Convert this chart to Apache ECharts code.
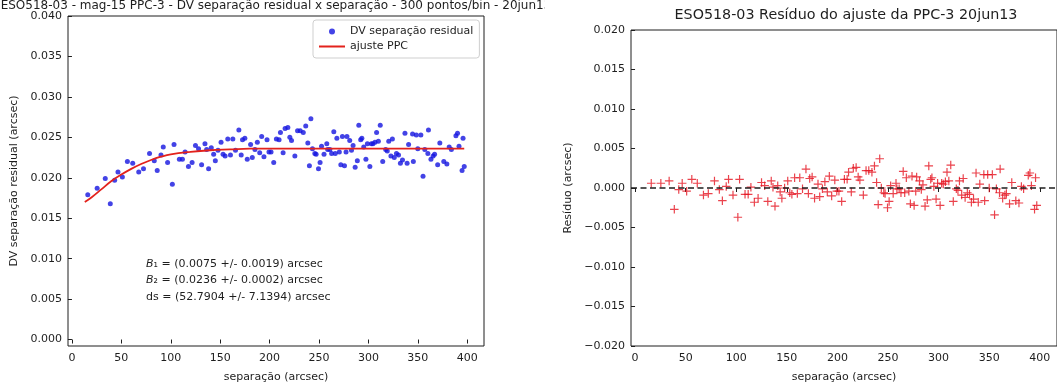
<!DOCTYPE html>
<html>
<head>
<meta charset="utf-8">
<script src="https://cdn.jsdelivr.net/npm/echarts@6/dist/echarts.min.js"></script>
<style>
  html, body { margin: 0; padding: 0; background: #ffffff; }
  #wrap { position: relative; width: 1057px; height: 388px; overflow: hidden; background: #ffffff; }
  #left { position: absolute; left: 0; top: 0; width: 545px; height: 388px; }
  #right { position: absolute; left: 545px; top: 0; width: 512px; height: 388px; }
</style>
</head>
<body>
<div id="wrap"><div id="left"></div><div id="right"></div></div>
<script>
// Binned separations (arcsec), 300 points per bin
const separacao = [16.0,25.5,33.7,38.8,43.2,46.6,51.0,56.1,61.5,67.6,72.4,78.5,83.3,86.3,90.1,92.4,96.8,101.6,103.3,108.7,111.8,114.5,117.9,121.6,125.0,128.1,131.2,134.6,136.3,138.3,141.0,143.4,145.1,147.8,150.9,152.9,155.0,157.7,160.4,162.8,165.5,168.9,171.3,172.6,175.0,177.4,180.8,182.5,185.2,187.6,190.0,192.0,194.3,197.4,199.4,201.5,204.2,206.9,209.6,211.0,213.7,215.7,218.5,220.5,222.2,225.6,228.3,
  231.0,234.1,236.6,238.7,240.3,241.8,243.4,245.8,247.1,249.5,251.1,252.6,255.1,257.9,258.8,261.0,262.8,265.0,266.5,268.1,270.6,272.1,273.7,275.8,277.4,278.3,281.1,282.9,284.5,286.6,288.8,290.3,292.2,293.4,295.3,297.5,299.0,301.5,303.0,304.6,306.7,308.3,310.1,312.0,314.5,317.5,319.1,320.6,322.8,324.3,326.2,328.4,330.5,332.4,334.5,337.0,339.2,340.7,344.7,345.5,348.5,350.0,353.1,355.3,357.1,360.2,360.8,363.3,365.5,367.0,370.1,372.3,376.3,379.4,381.8,384.0,388.6,390.2,391.7,394.8,395.8,397.0];

// Residual DV separation per bin (arcsec)
const dvResidual = [0.0179,0.0187,0.0199,0.0168,0.0197,0.0207,0.0201,0.0220,0.0218,0.0207,0.0211,0.0230,0.0221,0.0209,0.0228,0.0238,0.0219,0.0192,0.0241,0.0223,0.0223,0.0232,0.0214,0.0219,0.0240,0.0236,0.0216,0.0242,0.0235,0.0211,0.0237,0.0229,0.0221,0.0234,0.0244,0.0229,0.0227,0.0248,0.0228,0.0248,0.0234,0.0259,0.0228,0.0247,0.0249,0.0223,0.0241,0.0225,0.0235,0.0244,0.0231,0.0251,0.0226,0.0247,0.0232,0.0232,0.0219,0.0248,0.0247,0.0256,0.0231,0.0261,0.0262,0.0250,0.0246,0.0227,0.0258,
  0.0258,0.0256,0.0264,0.0243,0.0215,0.0273,0.0236,0.0230,0.0229,0.0211,0.0219,0.0239,0.0229,0.0242,0.0235,0.0235,0.0230,0.0257,0.0230,0.0249,0.0232,0.0216,0.0251,0.0215,0.0232,0.0251,0.0246,0.0234,0.0240,0.0213,0.0221,0.0265,0.0247,0.0249,0.0238,0.0223,0.0242,0.0214,0.0242,0.0242,0.0244,0.0256,0.0245,0.0265,0.0220,0.0235,0.0233,0.0245,0.0227,0.0248,0.0225,0.0230,0.0228,0.0218,0.0222,0.0255,0.0218,0.0241,0.0254,0.0220,0.0253,0.0236,0.0253,0.0202,0.0235,0.0230,0.0259,0.0223,0.0227,0.0229,0.0216,0.0243,0.0220,0.0217,0.0238,0.0235,0.0252,0.0255,0.0239,0.0209,0.0249,0.0214];

// Fit residuals (data minus PPC fit), arcsec
const residuo = [0.0006,0.0006,0.0009,-0.0027,-0.0002,0.0006,-0.0004,0.0011,0.0006,-0.0009,-0.0007,0.0009,-0.0002,-0.0016,0.0002,0.0011,-0.0009,-0.0037,0.0011,-0.0008,-0.0008,0.0001,-0.0018,-0.0013,0.0007,0.0003,-0.0017,0.0009,0.0001,-0.0023,0.0003,-0.0005,-0.0013,0.0000,0.0009,-0.0006,-0.0008,0.0013,-0.0007,0.0013,-0.0001,0.0024,-0.0007,0.0012,0.0014,-0.0013,0.0005,-0.0011,-0.0001,0.0008,-0.0005,0.0015,-0.0010,0.0010,-0.0004,-0.0004,-0.0017,0.0011,0.0011,0.0020,-0.0005,0.0025,0.0026,0.0014,0.0010,-0.0009,0.0022,
  0.0022,0.0020,0.0028,0.0007,-0.0021,0.0037,0.0000,-0.0006,-0.0007,-0.0025,-0.0017,0.0003,-0.0007,0.0006,-0.0001,-0.0001,-0.0006,0.0021,-0.0006,0.0013,-0.0004,-0.0020,0.0015,-0.0022,-0.0004,0.0014,0.0009,-0.0002,0.0004,-0.0023,-0.0015,0.0028,0.0011,0.0013,0.0002,-0.0014,0.0006,-0.0022,0.0006,0.0005,0.0008,0.0020,0.0009,0.0029,-0.0017,-0.0001,-0.0003,0.0009,-0.0009,0.0012,-0.0012,-0.0006,-0.0008,-0.0018,-0.0014,0.0019,-0.0018,0.0005,0.0017,-0.0016,0.0017,0.0000,0.0017,-0.0034,-0.0001,-0.0006,0.0024,-0.0013,-0.0009,-0.0007,-0.0020,0.0007,-0.0016,-0.0019,0.0002,-0.0001,0.0016,0.0019,0.0003,-0.0027,0.0013,-0.0022];

// PPC fit curve samples
const ajusteX = [13, 20, 30, 40, 50, 60, 70, 80, 90, 100, 120, 140, 160, 180, 200, 250, 300, 350, 397];
const ajusteY = [0.0170, 0.0176, 0.0186, 0.0196, 0.0204, 0.0211, 0.0217, 0.0222, 0.0226, 0.0229, 0.0232, 0.0234, 0.0235, 0.0236, 0.0236, 0.0236, 0.0236, 0.0236, 0.0236];

// Tick values
const xTicks = [0, 50, 100, 150, 200, 250, 300, 350, 400];
const yTicksDV = [0, 0.005, 0.010, 0.015, 0.020, 0.025, 0.030, 0.035, 0.040];
const yTicksRes = [-0.020, -0.015, -0.010, -0.005, 0, 0.005, 0.010, 0.015, 0.020];

const FONT = 'DejaVu Sans';
const INK = '#1e1e1e';
const TICK_FS = 11;

function tickLabel(v) {
  return v.toFixed(3).replace('-', '\u2212');
}

function xAxisCfg() {
  return {
    type: 'value', min: -4, max: 417,
    name: 'separação (arcsec)', nameLocation: 'middle', nameGap: 26,
    nameTextStyle: { fontFamily: FONT, fontSize: TICK_FS, color: INK },
    axisLine: { show: false },
    axisTick: { show: true, customValues: xTicks, length: 4, inside: false, lineStyle: { color: INK, width: 1 } },
    axisLabel: { customValues: xTicks, formatter: v => String(Math.round(v)), fontFamily: FONT, fontSize: TICK_FS, color: INK, margin: 7 },
    splitLine: { show: false }
  };
}

function yAxisCfg(min, max, ticks, name, gap) {
  return {
    type: 'value', min: min, max: max,
    name: name, nameLocation: 'middle', nameGap: gap, nameRotate: 90,
    nameTextStyle: { fontFamily: FONT, fontSize: TICK_FS, color: INK },
    axisLine: { show: false },
    axisTick: { show: true, customValues: ticks, length: 4, inside: false, lineStyle: { color: INK, width: 1 } },
    axisLabel: { customValues: ticks, formatter: tickLabel, fontFamily: FONT, fontSize: TICK_FS, color: INK, margin: 6 },
    splitLine: { show: false }
  };
}

// ---------- Left panel: DV residual separation vs separation ----------
const leftChart = echarts.init(document.getElementById('left'), null, { renderer: 'canvas' });
// plain line handle for the fit entry of the legend (bar centred in a 26x6 box)
const lineHandle = 'path://M0,0h0.01v6h-0.01zM0,2.1h26v1.8h-26z';
leftChart.setOption({
  animation: false,
  backgroundColor: '#ffffff',
  title: {
    text: 'ESO518-03 - mag-15 PPC-3 - DV separação residual x separação - 300 pontos/bin - 20jun13',
    left: 276, top: 0, textAlign: 'center', padding: 0,
    textStyle: { fontFamily: FONT, fontSize: 12, fontWeight: 'normal', color: INK }
  },
  grid: { left: 68, top: 16, width: 416, height: 332, show: true, borderColor: INK, borderWidth: 1, backgroundColor: 'transparent' },
  xAxis: xAxisCfg(),
  yAxis: yAxisCfg(-0.0008, 0.040, yTicksDV, 'DV separação residual (arcsec)', 44),
  legend: {
    orient: 'vertical', left: 313, top: 20,
    padding: [6, 6, 6, 6], itemGap: 4, itemWidth: 26, itemHeight: 6,
    borderColor: '#cfcfcf', borderWidth: 1, borderRadius: 3,
    backgroundColor: 'rgba(255,255,255,0.85)',
    textStyle: { fontFamily: FONT, fontSize: 11, color: INK },
    data: [
      { name: 'DV separação residual', icon: 'circle' },
      { name: 'ajuste PPC', icon: lineHandle, itemStyle: { color: '#e3221c' } }
    ]
  },
  series: [
    {
      name: 'DV separação residual', type: 'scatter',
      data: separacao.map((x, i) => [x, dvResidual[i]]),
      symbol: 'circle', symbolSize: 5,
      itemStyle: { color: '#1414e0' }, z: 2
    },
    {
      name: 'ajuste PPC', type: 'line',
      data: ajusteX.map((x, i) => [x, ajusteY[i]]),
      smooth: 0.4, showSymbol: false, symbol: 'none',
      itemStyle: { color: '#e3221c' },
      lineStyle: { color: '#e3221c', width: 1.8 }, z: 3
    }
  ]
});

// Fit parameters placed in data coordinates
const paramAnchor = leftChart.convertToPixel({ gridIndex: 0 }, [75, 0.0104]);
leftChart.setOption({
  graphic: [{
    type: 'text', x: paramAnchor[0], y: paramAnchor[1],
    style: {
      text: '{i|B}\u2081 = (0.0075 +/- 0.0019) arcsec\n{i|B}\u2082 = (0.0236 +/- 0.0002) arcsec\nds = (52.7904 +/- 7.1394) arcsec',
      fontFamily: FONT, fontSize: 11, fill: INK, lineHeight: 16.5,
      rich: { i: { fontFamily: FONT, fontSize: 11, fontStyle: 'italic', fill: INK, lineHeight: 16.5 } }
    }
  }]
});

// ---------- Right panel: residuals of the PPC-3 fit ----------
const rightChart = echarts.init(document.getElementById('right'), null, { renderer: 'canvas' });
const crossPath = 'path://M4.3,0h1.4v4.3h4.3v1.4h-4.3v4.3h-1.4v-4.3h-4.3v-1.4h4.3z';
rightChart.setOption({
  animation: false,
  backgroundColor: '#ffffff',
  title: {
    text: 'ESO518-03 Resíduo do ajuste da PPC-3 20jun13',
    left: 301, top: 8, textAlign: 'center', padding: 0,
    textStyle: { fontFamily: FONT, fontSize: 14.3, fontWeight: 'normal', color: INK }
  },
  grid: { left: 86, top: 30, width: 430, height: 318, show: true, borderColor: INK, borderWidth: 1, backgroundColor: 'transparent' },
  xAxis: xAxisCfg(),
  yAxis: yAxisCfg(-0.020, 0.020, yTicksRes, 'Resíduo (arcsec)', 50),
  series: [{
    name: 'Resíduo', type: 'scatter',
    data: separacao.map((x, i) => [x, residuo[i]]),
    symbol: crossPath, symbolSize: 8.5,
    itemStyle: { color: '#e5131f' }, z: 3,
    markLine: {
      silent: true, symbol: 'none', animation: false,
      label: { show: false },
      lineStyle: { color: '#1e1e1e', width: 1.6, type: [6, 3.5] },
      data: [{ yAxis: 0 }]
    }
  }]
});
</script>
</body>
</html>
